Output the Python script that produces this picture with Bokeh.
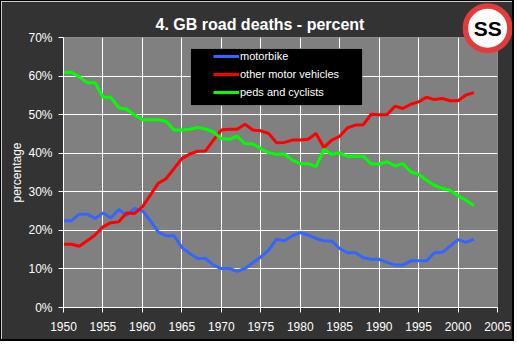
from bokeh.plotting import figure
from bokeh.models import (Legend, LegendItem, FixedTicker, PrintfTickFormatter,
                          BoxAnnotation, Range1d)
from bokeh.core.properties import value
from bokeh.embed import file_html
from bokeh.resources import INLINE

years = list(range(1950, 2003))
motorbike = [22.5, 22.5, 24.2, 24.2, 23.1, 24.5, 23.2, 25.4, 23.9, 25.7,
             25.1, 22.5, 19.6, 18.6, 18.6, 15.6, 14.0, 12.7, 12.7, 11.0,
             10.1, 10.1, 9.4, 10.1, 11.6, 13.1, 14.9, 17.7, 17.3, 18.6,
             19.4, 18.8, 17.9, 17.3, 17.2, 15.3, 14.2, 14.2, 12.9, 12.5,
             12.5, 11.7, 11.0, 11.0, 12.1, 12.1, 12.1, 14.2, 14.3, 15.9,
             17.6, 16.9, 17.7]
other_motor = [16.4, 16.4, 15.9, 17.3, 18.8, 20.9, 22.0, 22.2, 24.5, 24.4,
               26.1, 29.1, 32.2, 33.4, 36.0, 38.6, 39.8, 40.5, 40.6, 43.4,
               46.0, 46.2, 46.2, 47.5, 46.0, 45.8, 45.1, 42.7, 42.8, 43.4,
               43.4, 43.6, 45.1, 41.5, 43.4, 44.4, 46.6, 47.3, 47.4, 50.1,
               50.0, 50.0, 52.2, 51.6, 52.7, 53.3, 54.5, 53.9, 54.2, 53.6,
               53.6, 55.1, 55.7]
peds_cyclists = [61.0, 61.0, 59.8, 58.3, 58.3, 54.5, 54.5, 51.8, 51.4, 49.9,
                 48.7, 48.7, 48.7, 48.3, 46.0, 46.0, 46.2, 46.7, 46.3, 45.5,
                 43.8, 43.6, 44.4, 42.5, 42.4, 41.2, 40.1, 39.7, 39.8, 38.2,
                 37.3, 37.3, 36.5, 41.0, 39.7, 40.1, 39.2, 39.2, 39.2, 37.2,
                 37.2, 37.8, 36.7, 37.3, 35.2, 34.5, 33.0, 31.7, 30.9, 30.4,
                 29.0, 27.8, 26.4]
x_ticks = list(range(1950, 2006, 5))
y_ticks = list(range(0, 71, 10))
series_names = ["motorbike", "other motor vehicles", "peds and cyclists"]
series_colors = ["#3366FF", "#FF0000", "#00FF00"]
logo_text = ["SS"]

FONT = "Liberation Sans"

p = figure(width=514, height=341, output_backend="svg", toolbar_location=None,
           x_range=Range1d(1950, 2005), y_range=Range1d(0, 70),
           min_border_left=62, min_border_right=18, min_border_top=36,
           min_border_bottom=35)
p.styles = {"border-top": "1px solid black", "border-left": "1px solid black",
            "border-right": "2px solid black", "border-bottom": "2px solid black"}
p.background_fill_color = "#808080"
p.border_fill_color = "#333333"
p.outline_line_color = None

for ax in (p.xaxis[0], p.yaxis[0]):
    ax.axis_line_color = "white"
    ax.major_tick_line_color = "white"
    ax.minor_tick_line_color = None
    ax.major_tick_in = 0
    ax.major_tick_out = 5
    ax.major_label_text_color = "white"
    ax.major_label_text_font = FONT
    ax.major_label_text_font_size = "12px"

p.xaxis.ticker = FixedTicker(ticks=x_ticks)
p.yaxis.ticker = FixedTicker(ticks=y_ticks)
p.yaxis.formatter = PrintfTickFormatter(format="%d%%")
p.xaxis.major_label_standoff = 9
p.yaxis.major_label_standoff = 6
p.yaxis.axis_label = "percentage"
p.yaxis.axis_label_text_color = "white"
p.yaxis.axis_label_text_font = FONT
p.yaxis.axis_label_text_font_size = "12px"
p.yaxis.axis_label_text_font_style = "normal"
p.yaxis.axis_label_standoff = 1

p.xgrid.ticker = FixedTicker(ticks=x_ticks)
p.ygrid.ticker = FixedTicker(ticks=y_ticks)
p.grid.grid_line_color = "white"
p.grid.grid_line_width = 1

renderers = []
for vals, col in zip([motorbike, other_motor, peds_cyclists], series_colors):
    r = p.line(years, vals, line_width=3, line_color=col)
    renderers.append(r)

# legend background box
p.add_layout(BoxAnnotation(left=188, right=360, top=46, bottom=103,
                           left_units="canvas", right_units="canvas",
                           top_units="canvas", bottom_units="canvas",
                           fill_color="black", fill_alpha=1,
                           line_color="white", line_width=1, level="overlay"))

legend = Legend(items=[LegendItem(label=n, renderers=[r]) for n, r in zip(series_names, renderers)],
                location=(213 - 63, 206), padding=0, spacing=0, margin=0,
                glyph_width=26, glyph_height=18, label_height=18,
                label_standoff=1, label_text_font=FONT, label_text_font_size="11px",
                label_text_color="white", background_fill_alpha=0,
                border_line_color=None)
p.add_layout(legend)

p.title.text = "4. GB road deaths - percent"
p.title.text_color = "white"
p.title.text_font = FONT
p.title.text_font_size = "16px"
p.title.text_font_style = "bold"
p.title.align = "left"
p.title.offset = 92

# logo (decoration, placed in the top-right corner)
LOGO_X, LOGO_Y = 2003.75, 72.4
p.scatter([LOGO_X], [LOGO_Y], marker="circle", size=44.5, fill_color="white",
          line_color="#E23B3B", line_width=5.5, level="overlay")
p.text([LOGO_X], [LOGO_Y], text=logo_text, text_align="center", text_baseline="middle",
       text_font=value(FONT), text_font_style="bold", text_font_size="21px",
       text_color="black", level="overlay")

open("out.html", "w").write(file_html(p, INLINE))
